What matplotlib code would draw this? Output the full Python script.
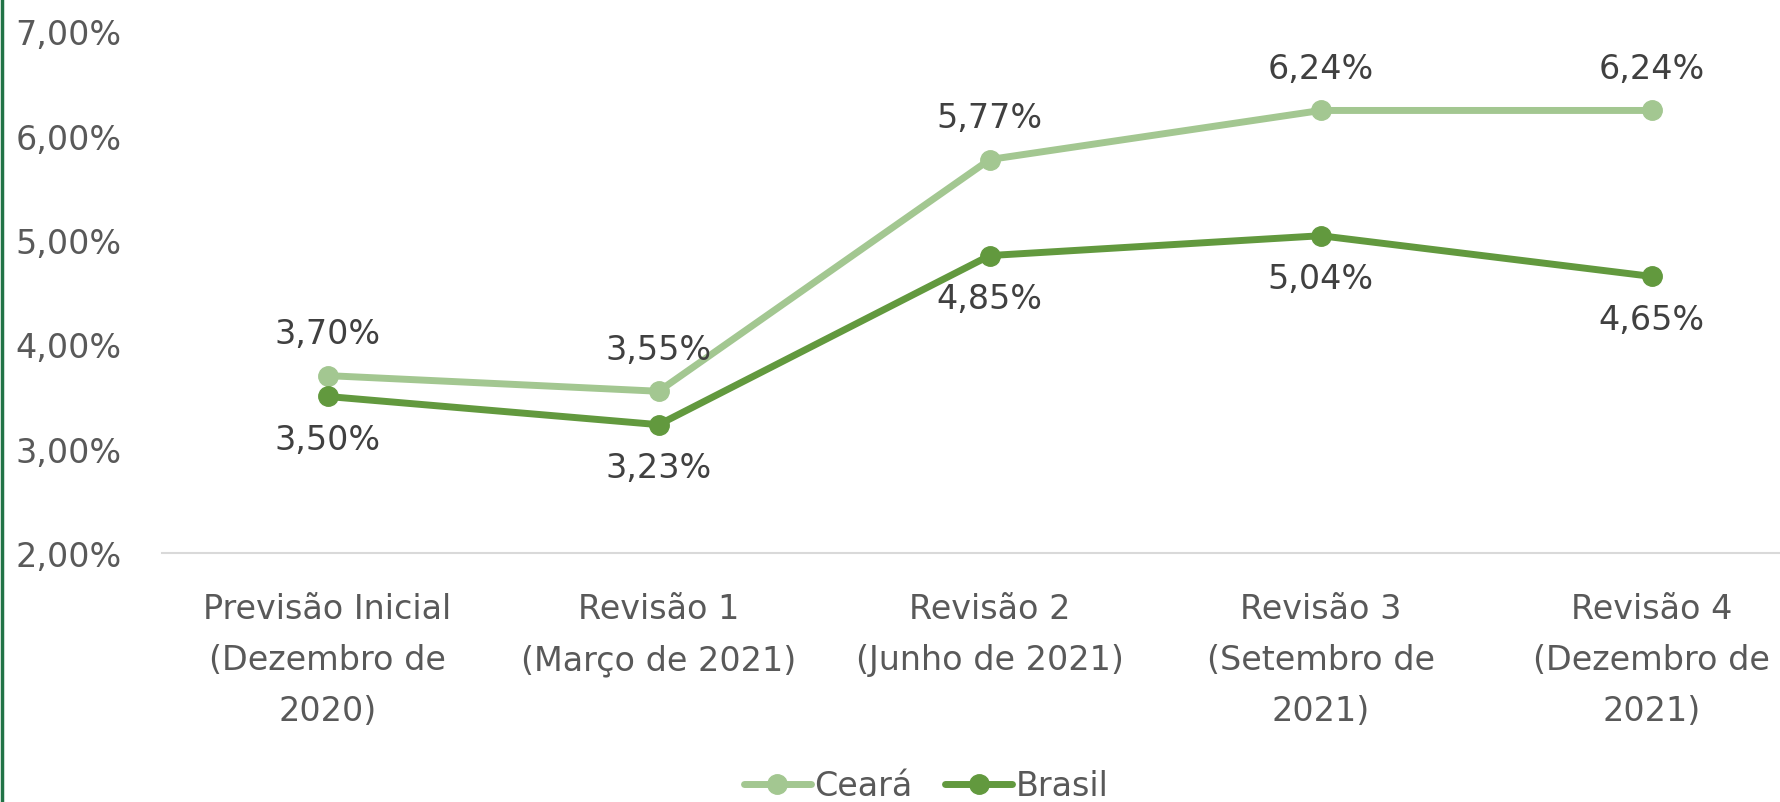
import matplotlib.pyplot as plt
from matplotlib.lines import Line2D

categorias = ['Previsão Inicial\n(Dezembro de\n2020)', 'Revisão 1\n(Março de 2021)',
              'Revisão 2\n(Junho de 2021)', 'Revisão 3\n(Setembro de\n2021)',
              'Revisão 4\n(Dezembro de\n2021)']
ceara = [3.70, 3.55, 5.77, 6.24, 6.24]
brasil = [3.50, 3.23, 4.85, 5.04, 4.65]
yticks = [2, 3, 4, 5, 6, 7]

COR_CE = '#A3C791'
COR_BR = '#62993E'
FS = 24

plt.rcParams['font.family'] = ['DejaVu Sans']

fig = plt.figure(figsize=(17.81, 8.03), dpi=100)
ax = fig.add_axes([0.091, 0.310, 0.909, 0.650])

x = list(range(len(categorias)))
ax.plot(x, ceara, color=COR_CE, lw=5, marker='o', ms=14, label='Ceará',
        solid_capstyle='round')
ax.plot(x, brasil, color=COR_BR, lw=5, marker='o', ms=14, label='Brasil',
        solid_capstyle='round')

for xi, v in zip(x, ceara):
    ax.annotate(f'{v:.2f}%'.replace('.', ','), (xi, v), xytext=(0, 30),
                textcoords='offset points', ha='center', va='center',
                fontsize=FS, color='#404040')
for xi, v in zip(x, brasil):
    ax.annotate(f'{v:.2f}%'.replace('.', ','), (xi, v), xytext=(0, -31),
                textcoords='offset points', ha='center', va='center',
                fontsize=FS, color='#404040')

ax.set_xlim(-0.5, 4.39)
ax.set_ylim(2, 7)
ax.set_yticks(yticks)
ax.set_yticklabels([f'{t:.2f}%'.replace('.', ',') for t in yticks])
ax.set_xticks(x)
ax.set_xticklabels(categorias, linespacing=1.7)
ax.tick_params(axis='both', length=0, labelsize=FS, colors='#595959')
ax.tick_params(axis='y', pad=29)
ax.tick_params(axis='x', pad=28)
for s in ['top', 'right', 'left']:
    ax.spines[s].set_visible(False)
ax.spines['bottom'].set_color('#D9D9D9')
ax.spines['bottom'].set_linewidth(1.5)

fig.legend(loc='center', bbox_to_anchor=(0.52, 0.02), ncol=2, frameon=False,
           fontsize=FS, handlelength=2.0, columnspacing=1.0, handletextpad=0.1,
           labelcolor='#595959')

fig.add_artist(Line2D([0.001, 0.001], [0, 1], color='#217346', lw=2.5,
                      transform=fig.transFigure))

fig.savefig('out.png', dpi=100)
